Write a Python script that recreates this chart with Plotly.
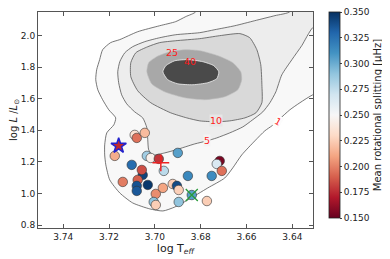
import plotly.graph_objects as go

# ---------------- star data (log Teff, log L/Lsun, mean splitting in microHz) -------------
logteff = [3.7088, 3.7079, 3.7044, 3.7175, 3.7035, 3.7018, 3.6983, 3.6961, 3.7101, 3.7053,
           3.7057, 3.7075, 3.7140, 3.7079, 3.7079, 3.7031, 3.6996, 3.7005, 3.6996, 3.6965,
           3.6922, 3.6900, 3.6904, 3.6896, 3.6896, 3.6856, 3.6839, 3.6773, 3.6752, 3.6717,
           3.6730, 3.6708]
logl = [1.371, 1.352, 1.384, 1.238, 1.238, 1.225, 1.219, 1.143, 1.181, 1.117,
        1.149, 1.086, 1.073, 1.048, 1.016, 1.054, 0.997, 0.946, 0.927, 1.035,
        1.060, 1.257, 1.048, 1.022, 0.946, 1.111, 0.990, 0.952, 1.111, 1.206,
        1.187, 1.143]
splitting = [0.235, 0.195, 0.218, 0.213, 0.285, 0.245, 0.178, 0.277, 0.327, 0.343,
             0.185, 0.190, 0.198, 0.337, 0.335, 0.347, 0.203, 0.290, 0.225, 0.210,
             0.225, 0.305, 0.340, 0.226, 0.290, 0.315, 0.305, 0.225, 0.313, 0.155,
             0.265, 0.195]

# special stars
star_teff, star_l = [3.7158], [1.302]
cross_teff, cross_l = [3.6974], [1.194]
x_teff, x_l = [3.6839], [0.990]

# ---------------- density contours (percent levels), vertices -------
lvl1_x = [3.6821, 3.6821, 3.6865, 3.6909, 3.6979, 3.7075, 3.7153, 3.7193, 3.7228, 3.7241,
          3.7254, 3.7258, 3.7249, 3.7228, 3.7201, 3.7171, 3.7179, 3.7210, 3.7219, 3.7219,
          3.7214, 3.7197, 3.7153, 3.7097, 3.7022, 3.6965, 3.6913, 3.6856, 3.6769, 3.6695,
          3.6660, 3.6621, 3.6564, 3.6520, 3.6489, 3.6455, 3.6411, 3.6367, 3.6311, 3.6236,
          3.6236, 3.6821]
lvl1_y = [2.229, 2.152, 2.121, 2.089, 2.063, 2.025, 1.975, 1.956, 1.911, 1.848,
          1.784, 1.721, 1.657, 1.594, 1.530, 1.479, 1.435, 1.384, 1.308, 1.244,
          1.181, 1.086, 1.003, 0.940, 0.902, 0.889, 0.914, 0.959, 1.035, 1.098,
          1.162, 1.244, 1.333, 1.397, 1.429, 1.473, 1.530, 1.575, 1.625, 1.657,
          2.229, 2.229]

lvl5_x = [3.6402, 3.6411, 3.6476, 3.6564, 3.6651, 3.6738, 3.6804, 3.6909, 3.6979, 3.7044,
          3.7097, 3.7131, 3.7153, 3.7162, 3.7158, 3.7145, 3.7123, 3.7088, 3.7053, 3.7035,
          3.7031, 3.7027, 3.7009, 3.6957, 3.6909, 3.6826, 3.6773, 3.6730, 3.6673, 3.6616,
          3.6573, 3.6529, 3.6498, 3.6472, 3.6446, 3.6402, 3.6359, 3.6311, 3.6236, 3.6236,
          3.6402]
lvl5_y = [2.229, 2.152, 2.127, 2.095, 2.063, 2.038, 2.019, 2.006, 1.987, 1.962,
          1.930, 1.892, 1.835, 1.771, 1.702, 1.625, 1.568, 1.517, 1.479, 1.416,
          1.340, 1.276, 1.244, 1.257, 1.276, 1.314, 1.333, 1.352, 1.384, 1.422,
          1.467, 1.517, 1.575, 1.644, 1.752, 1.848, 1.937, 2.051, 2.102, 2.229,
          2.229]

lvl10_x = [3.6861, 3.6931, 3.7018, 3.7075, 3.7105, 3.7105, 3.7083, 3.7031, 3.6979, 3.6909,
           3.6804, 3.6717, 3.6629, 3.6586, 3.6555, 3.6538, 3.6533, 3.6533, 3.6559, 3.6607,
           3.6673, 3.6734, 3.6804, 3.6861]
lvl10_y = [1.479, 1.511, 1.575, 1.651, 1.740, 1.829, 1.892, 1.930, 1.956, 1.968,
           1.981, 2.000, 2.013, 1.987, 1.911, 1.816, 1.689, 1.575, 1.511, 1.479,
           1.460, 1.454, 1.460, 1.479]

lvl25_x = [3.7035, 3.7027, 3.6992, 3.6935, 3.6869, 3.6804, 3.6725, 3.6660, 3.6625, 3.6621,
           3.6638, 3.6695, 3.6782, 3.6869, 3.6957, 3.7014, 3.7035]
lvl25_y = [1.771, 1.829, 1.867, 1.898, 1.911, 1.905, 1.873, 1.829, 1.771, 1.721,
           1.657, 1.613, 1.594, 1.606, 1.644, 1.695, 1.771]

lvl40_x = [3.6965, 3.6952, 3.6913, 3.6856, 3.6791, 3.6743, 3.6721, 3.6730, 3.6769, 3.6834,
           3.6900, 3.6944, 3.6965]
lvl40_y = [1.771, 1.810, 1.841, 1.848, 1.835, 1.810, 1.771, 1.727, 1.702, 1.689,
           1.695, 1.721, 1.771]

label_text = ["25", "40", "10", "5", "1"]
label_x = [3.6926, 3.6848, 3.6734, 3.6773, 3.6463]
label_y = [1.892, 1.835, 1.460, 1.333, 1.454]

x_ticks = [3.74, 3.72, 3.70, 3.68, 3.66, 3.64]
y_ticks = [0.8, 1.0, 1.2, 1.4, 1.6, 1.8, 2.0]
cb_ticks = [0.150, 0.175, 0.200, 0.225, 0.250, 0.275, 0.300, 0.325, 0.350]
cb_min, cb_max = 0.15, 0.35

rdbu = ['rgb(103,0,31)', 'rgb(178,24,43)', 'rgb(214,96,77)', 'rgb(244,165,130)',
        'rgb(253,219,199)', 'rgb(247,247,247)', 'rgb(209,229,240)', 'rgb(146,197,222)',
        'rgb(67,147,195)', 'rgb(33,102,172)', 'rgb(5,48,97)']
colorscale = [[i / 10, c] for i, c in enumerate(rdbu)]

# keep the end ticks a hair inside the bar so they are not culled by rounding
cb_tickpos = [min(max(v, cb_min + 1e-6), cb_max - 1e-6) for v in cb_ticks]

fig = go.Figure()

contours = [
    (lvl1_x, lvl1_y, '#f8f8f8', '#555555', 0.8),
    (lvl5_x, lvl5_y, '#ededed', '#555555', 0.8),
    (lvl10_x, lvl10_y, '#d9d9d9', '#555555', 0.8),
    (lvl25_x, lvl25_y, '#a8a8a8', '#bdbdbd', 0.6),
    (lvl40_x, lvl40_y, '#4a4a4a', '#f0f0f0', 0.8),
]
for xs, ys, fc, lc, lw in contours:
    fig.add_trace(go.Scatter(x=xs, y=ys, mode='lines', fill='toself', fillcolor=fc,
                             line=dict(color=lc, width=lw, shape='spline', smoothing=0.6),
                             hoverinfo='skip', showlegend=False))

fig.add_trace(go.Scatter(
    x=logteff, y=logl, mode='markers', showlegend=False,
    marker=dict(size=9.5, color=splitting, colorscale=colorscale, cmin=cb_min, cmax=cb_max,
                line=dict(color='#333333', width=0.6),
                colorbar=dict(thickness=11, lenmode='fraction', len=206 / 216,
                              x=1.058, xanchor='left', y=0.523, yanchor='middle',
                              xpad=0, ypad=0, tickmode='array', tickvals=cb_tickpos,
                              ticktext=['%.3f' % v for v in cb_ticks],
                              ticklabeloverflow='allow',
                              ticks='outside', ticklen=2, tickcolor='#444',
                              outlinecolor='#222', outlinewidth=0.8,
                              tickfont=dict(size=9),
                              title=dict(text='Mean rotational splitting [μHz]', side='right',
                                         font=dict(size=10))))))

fig.add_trace(go.Scatter(x=star_teff, y=star_l, mode='markers', showlegend=False,
                         marker=dict(symbol='star', size=11.5, color='#c0282d',
                                     line=dict(color='#2222cc', width=1.5))))
fig.add_trace(go.Scatter(x=cross_teff, y=cross_l, mode='markers', showlegend=False,
                         marker=dict(symbol='cross-thin', size=12,
                                     line=dict(color='#ee2222', width=1.5))))
fig.add_trace(go.Scatter(x=x_teff, y=x_l, mode='markers', showlegend=False,
                         marker=dict(symbol='x-thin', size=12,
                                     line=dict(color='#2a9a3a', width=1.3))))

angles = [0, 0, 0, 0, 30]
bgs = ['rgba(0,0,0,0)', 'rgba(0,0,0,0)', '#e6e6e6', '#f3f3f3', '#fcfcfc']
for t, lx, ly, a, bg in zip(label_text, label_x, label_y, angles, bgs):
    fig.add_annotation(x=lx, y=ly, text=t, showarrow=False, textangle=a,
                       bgcolor=bg, borderpad=0,
                       font=dict(color='#ff1a1a', size=9.5))

# the page body adds an 8 px offset, so the figure is 8 px smaller and left/top margins shifted
fig.update_layout(
    width=382, height=251, margin=dict(l=30, r=77, t=4, b=31),
    plot_bgcolor='white', paper_bgcolor='white',
    font=dict(family='DejaVu Sans', size=9, color='#222222'),
)
fig.update_xaxes(range=[3.751, 3.631], tickvals=x_ticks,
                 ticktext=['%.2f' % v for v in x_ticks],
                 ticks='inside', ticklen=4, tickcolor='#555', showline=True,
                 linecolor='#555', linewidth=1, mirror='allticks',
                 showgrid=False, zeroline=False,
                 title=dict(text='log T<sub><i>eff</i></sub>', font=dict(size=11), standoff=0))
fig.update_yaxes(range=[0.781, 2.15], tickvals=y_ticks,
                 ticktext=['%.1f' % v for v in y_ticks],
                 ticks='inside', ticklen=4, tickcolor='#555', showline=True,
                 linecolor='#555', linewidth=1, mirror='allticks',
                 showgrid=False, zeroline=False,
                 title=dict(text='log <i>L</i> /<i>L</i><sub>⊙</sub>', font=dict(size=10), standoff=3))

fig.write_html("out.html")
